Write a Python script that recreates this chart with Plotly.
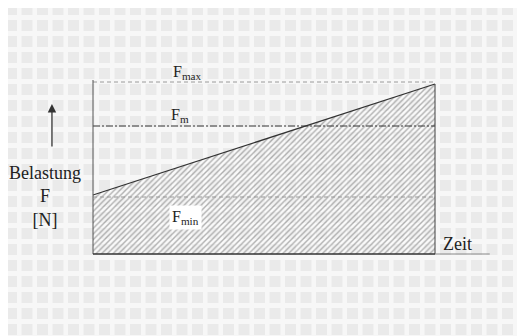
import plotly.graph_objects as go

# values (y in arbitrary force units, baseline = 0)
zeit = [0, 1]
belastung = [59, 170]
f_max = 172
f_m = 128
f_min = 57
zeit_ende = 1.16

serif = "Liberation Serif"

# the page body has an 8px margin, so the figure is drawn 8px smaller
W, H, OFF = 517, 328, 8

fig = go.Figure()

# hatched area under the load line
fig.add_trace(go.Scatter(
    x=[zeit[0], zeit[0], zeit[1], zeit[1]],
    y=[0, belastung[0], belastung[1], 0],
    fill='toself', mode='lines',
    line=dict(color='rgba(0,0,0,0)', width=0),
    fillcolor='rgba(0,0,0,0)',
    fillpattern=dict(shape='/', size=4, solidity=0.35,
                     fgcolor='#666666', bgcolor='rgba(255,255,255,0.4)'),
    hoverinfo='skip'))

# reference levels
fig.add_trace(go.Scatter(x=zeit, y=[f_max, f_max], mode='lines',
                         line=dict(color='#9a9a9a', width=1, dash='4px,3px')))
fig.add_trace(go.Scatter(x=zeit, y=[f_m, f_m], mode='lines',
                         line=dict(color='#333333', width=1.2, dash='7px,2px,2px,2px')))
fig.add_trace(go.Scatter(x=zeit, y=[f_min, f_min], mode='lines',
                         line=dict(color='#9a9a9a', width=1, dash='4px,3px')))

# load line
fig.add_trace(go.Scatter(x=zeit, y=belastung, mode='lines',
                         line=dict(color='#333333', width=1.2)))

# frame: left/right verticals and time axis
fig.add_trace(go.Scatter(x=[zeit[0], zeit[0]], y=[0, f_max + 2], mode='lines',
                         line=dict(color='#555555', width=1)))
fig.add_trace(go.Scatter(x=[zeit[1], zeit[1]], y=[0, belastung[1]], mode='lines',
                         line=dict(color='#444444', width=1)))
fig.add_trace(go.Scatter(x=[zeit[0], zeit[1]], y=[0, 0], mode='lines',
                         line=dict(color='#333333', width=1.3)))
fig.add_trace(go.Scatter(x=[zeit[1], zeit_ende], y=[0, 0], mode='lines',
                         line=dict(color='#888888', width=1)))

# labels
fig.add_annotation(x=0.275, y=f_max + 10, text="F<sub>max</sub>", showarrow=False,
                   font=dict(family=serif, size=16, color='#222'))
fig.add_annotation(x=0.255, y=f_m + 11, text="F<sub>m</sub>", showarrow=False,
                   font=dict(family=serif, size=16, color='#222'))
fig.add_annotation(x=0.27, y=f_min - 20, text="F<sub>min</sub>", showarrow=False,
                   bgcolor='white', borderpad=2,
                   font=dict(family=serif, size=16, color='#222'))
fig.add_annotation(x=1.065, y=10, text="Zeit", showarrow=False,
                   font=dict(family=serif, size=18, color='#222'))
fig.add_annotation(x=-0.14, y=58, text="Belastung<br>F<br>[N]", showarrow=False,
                   align='center', font=dict(family=serif, size=18, color='#222'))

# upward arrow
fig.add_annotation(x=-0.12, y=150, ax=-0.12, ay=106, xref='x', yref='y',
                   axref='x', ayref='y', text='', showarrow=True,
                   arrowhead=2, arrowsize=1.3, arrowwidth=1.3, arrowcolor='#333')

# faint scan pattern in the background
shapes = []
for row in range(21):
    for col in range(34):
        x0 = 6 + col * 15.5 - OFF
        y0 = 4 + row * 16 - OFF
        shapes.append(dict(type='rect', xref='paper', yref='paper',
                           x0=x0 / W, x1=(x0 + 11) / W,
                           y0=1 - (y0 + 11) / H, y1=1 - y0 / H,
                           fillcolor='#eaeaea', line=dict(width=0), layer='below'))

fig.update_layout(
    width=W, height=H,
    margin=dict(l=0, r=0, t=0, b=0),
    paper_bgcolor='#f7f7f7', plot_bgcolor='rgba(0,0,0,0)',
    showlegend=False,
    font=dict(family=serif),
    shapes=shapes,
    xaxis=dict(range=[-(93 - OFF) / 342, (525 - 93) / 342], visible=False, fixedrange=True),
    yaxis=dict(range=[-82, 254 - OFF], visible=False, fixedrange=True),
)

fig.write_html("out.html")
